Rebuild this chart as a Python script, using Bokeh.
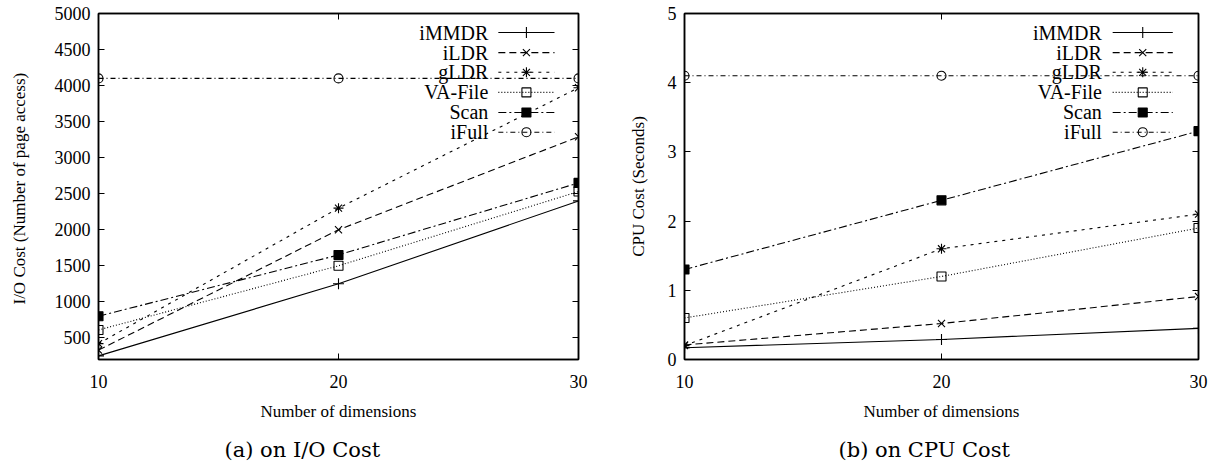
from bokeh.plotting import figure
from bokeh.layouts import row
from bokeh.models import LinearAxis, FixedTicker, Title, Range1d, CustomJSTickFormatter
from bokeh.embed import file_html
from bokeh.resources import INLINE
from bokeh.core.properties import value

# ---- data ----
dims = [10, 20, 30]
series_names = ["iMMDR", "iLDR", "gLDR", "VA-File", "Scan", "iFull"]

io_immdr = [250, 1250, 2400]
io_ildr = [330, 2000, 3290]
io_gldr = [420, 2300, 3970]
io_vafile = [610, 1500, 2530]
io_scan = [800, 1650, 2650]
io_ifull = [4100, 4100, 4100]

cpu_immdr = [0.17, 0.29, 0.45]
cpu_ildr = [0.21, 0.52, 0.91]
cpu_gldr = [0.20, 1.60, 2.10]
cpu_vafile = [0.60, 1.20, 1.90]
cpu_scan = [1.30, 2.30, 3.30]
cpu_ifull = [4.10, 4.10, 4.10]

x_ticks = [10, 20, 30]
io_y_ticks = [500, 1000, 1500, 2000, 2500, 3000, 3500, 4000, 4500, 5000]
cpu_y_ticks = [0, 1, 2, 3, 4, 5]

FONT = "Liberation Serif"
CAP_FONT = "DejaVu Serif"

styles = [
    dict(dash="solid", marker="cross", fill=False, size=11),
    dict(dash="7 4", marker="x", fill=False, size=10),
    dict(dash="3 5", marker="asterisk", fill=False, size=10),
    dict(dash="1 2", marker="square", fill=False, size=9),
    dict(dash="8 3 2 3", marker="square", fill=True, size=9),
    dict(dash="5 3 1 3", marker="circle", fill=False, size=9),
]


def make_fig(width, border_left, border_right, yr, yticks, ylabel, ylabel_standoff,
             caption, cap_offset, data):
    frame_w = width - border_left - border_right
    p = figure(width=width, height=468, output_backend="svg", toolbar_location=None,
               x_range=Range1d(10, 30), y_range=Range1d(*yr),
               min_border_left=border_left, min_border_right=border_right,
               min_border_top=13, min_border_bottom=109)
    p.frame_width = frame_w
    p.frame_height = 346
    p.background_fill_color = "white"
    p.border_fill_color = "white"
    p.outline_line_color = "black"
    p.outline_line_width = 1.5
    p.xgrid.visible = False
    p.ygrid.visible = False

    for ax, ticks in ((p.xaxis[0], x_ticks), (p.yaxis[0], yticks)):
        ax.ticker = FixedTicker(ticks=ticks)
        ax.major_tick_in = 6
        ax.major_tick_out = 0
        ax.minor_tick_line_color = None
        ax.axis_line_color = "black"
        ax.axis_line_width = 1.5
        ax.major_tick_line_color = "black"
        ax.major_label_text_font = FONT
        ax.major_label_text_font_size = "18px"
        ax.major_label_text_color = "black"
        ax.axis_label_text_font = FONT
        ax.axis_label_text_font_size = "17px"
        ax.axis_label_text_font_style = "normal"
        ax.axis_label_text_color = "black"
    p.xaxis[0].axis_label = "Number of dimensions"
    p.xaxis[0].major_label_standoff = 15
    p.xaxis[0].axis_label_standoff = 11
    p.yaxis[0].axis_label = ylabel
    p.yaxis[0].major_label_standoff = 8
    p.yaxis[0].axis_label_standoff = ylabel_standoff

    for loc, ticks in (("right", yticks), ("above", x_ticks)):
        ax = LinearAxis(ticker=FixedTicker(ticks=ticks),
                        formatter=CustomJSTickFormatter(code="return ''"))
        ax.major_tick_in = 6
        ax.major_tick_out = 0
        ax.minor_tick_line_color = None
        ax.axis_line_color = "black"
        ax.axis_line_width = 1.5
        ax.major_label_standoff = 0
        p.add_layout(ax, loc)

    cap = Title(text=caption, align="left", offset=cap_offset, text_font=CAP_FONT,
                text_font_size="21px", text_font_style="normal", text_color="black",
                standoff=25)
    p.add_layout(cap, "below")

    # series
    for name, ys, st in zip(series_names, data, styles):
        p.line(dims, ys, line_color="black", line_width=1.1, line_dash=st["dash"])
        p.scatter(dims, ys, marker=st["marker"], size=st["size"],
                  line_color="black", line_width=1.1,
                  fill_color="black" if st["fill"] else None)

    # legend (label on the left, sample on the right)
    x0, x1 = 10, 30
    y0, y1 = yr

    def fx(f):
        return x0 + f * (x1 - x0)

    def fy(f):
        return y1 - f * (y1 - y0)

    rows = [0.055, 0.113, 0.170, 0.228, 0.286, 0.343]
    for name, st, r in zip(series_names, styles, rows):
        yy = fy(r)
        p.text([fx(0.812)], [yy], text=[name], text_align="right", text_baseline="middle",
               text_font=value(FONT), text_font_size="20px", text_color="black")
        p.line([fx(0.833), fx(0.95)], [yy, yy], line_color="black", line_width=1.1,
               line_dash=st["dash"])
        p.scatter([fx(0.8915)], [yy], marker=st["marker"], size=st["size"],
                  line_color="black", line_width=1.1,
                  fill_color="black" if st["fill"] else None)
    return p


p1 = make_fig(600, 98, 22, (200, 5000), io_y_ticks, "I/O  Cost (Number of page access)", 23,
              "(a) on I/O Cost", 126,
              [io_immdr, io_ildr, io_gldr, io_vafile, io_scan, io_ifull])
p2 = make_fig(613, 84, 15, (0, 5), cpu_y_ticks, "CPU Cost (Seconds)", 17,
              "(b) on CPU Cost", 154,
              [cpu_immdr, cpu_ildr, cpu_gldr, cpu_vafile, cpu_scan, cpu_ifull])

layout = row(p1, p2)
open("out.html", "w").write(file_html(layout, INLINE))
